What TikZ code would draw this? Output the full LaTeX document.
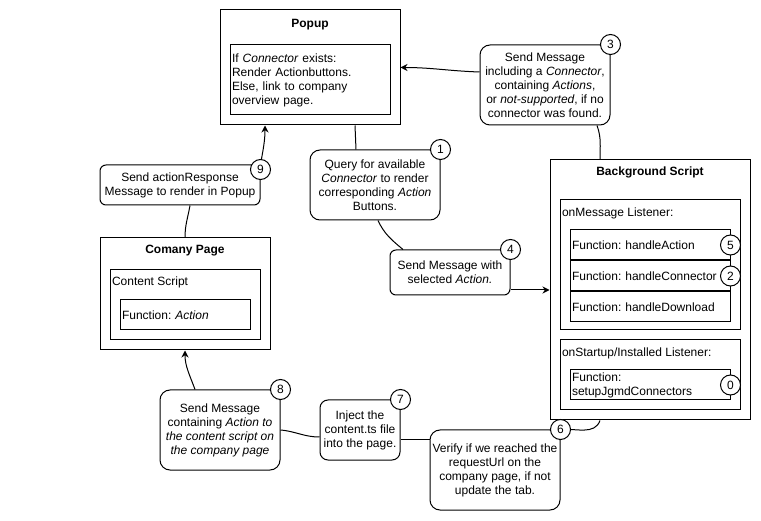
\documentclass[tikz,border=0pt]{standalone}
\usepackage{fontspec}
\setmainfont{Liberation Sans}
\usetikzlibrary{positioning,arrows.meta}

\begin{document}
\begin{tikzpicture}[x=1pt, y=-1pt,
      font=\fontsize{12}{14}\selectfont\frenchspacing,
      line width=1pt,
      box/.style={draw, inner sep=2pt},
      listbox/.style={draw, inner sep=2pt, text width=#1, align=left},
      msg/.style={draw, rounded corners=10pt, align=center, inner sep=1pt},
      num/.style={draw, circle, fill=white, minimum size=20pt, inner sep=0pt},
      title/.style={font=\fontsize{12}{14}\selectfont\bfseries},
      link/.style={-{Stealth[length=7pt,width=7pt]}}]
    \useasboundingbox (0,0) rectangle (761,521);

    \node[box, minimum width=180pt, minimum height=115pt] (popup) at (310,67.5) {};
    \node[title] (popupT) at ([yshift=-15pt]popup.north) {Popup};
    \node[listbox=156pt, minimum height=70pt] (popin) at (310,80)
      {If \textit{Connector} exists:\\Render Actionbuttons.\\Else, link to company\\overview page.};

    \node[msg, minimum width=130pt, minimum height=80pt] (m3) at (545,85)
      {Send Message\\including a \textit{Connector},\\containing \textit{Actions},\\ or \textit{not-supported}, if no\\connector was found.};

    \node[box, minimum width=200pt, minimum height=260pt] (bg) at (650,290) {};
    \node[title] (bgT) at ([yshift=-13pt]bg.north) {Background Script};
    \node[box, minimum width=180pt, minimum height=130pt] (lmsg) at (650,265) {};
    \node[anchor=west, inner sep=2pt] (lmsgT) at ([yshift=-14pt]lmsg.north west) {onMessage Listener:};
    \node[listbox=156pt, minimum height=30pt] (fA) at (650,245) {Function: handleAction};
    \node[listbox=156pt, minimum height=30pt, below=0pt of fA] (fC) {Function: handleConnector};
    \node[listbox=156pt, minimum height=30pt, below=0pt of fC] (fD) {Function: handleDownload};
    \node[box, minimum width=180pt, minimum height=70pt] (lstart) at (650,375) {};
    \node[anchor=west, inner sep=2pt] (lstartT) at ([yshift=-14pt]lstart.north west) {onStartup/Installed Listener:};
    \node[listbox=156pt, minimum height=30pt] (fS) at (650,385) {Function:\\setupJgmdConnectors};

    \node[msg, minimum width=130pt, minimum height=70pt] (m1) at (375,185)
      {Query for available\\\textit{Connector} to render\\corresponding \textit{Action}\\Buttons.};
    \node[msg, rounded corners=6pt, minimum width=120pt, minimum height=45pt] (m4) at (450,272.5)
      {Send Message with\\selected \textit{Action.}};
    \node[msg, rounded corners=6pt, minimum width=160pt, minimum height=40pt] (m9) at (180,185)
      {Send actionResponse\\Message to render in Popup};

    \node[box, minimum width=170pt, minimum height=112pt] (page) at (185,294) {};
    \node[title] (pageT) at ([yshift=-13pt]page.north) {Comany Page};
    \node[box, minimum width=150pt, minimum height=70pt] (cs) at (185,305) {};
    \node[anchor=west, inner sep=2pt] (csT) at ([yshift=-13pt]cs.north west) {Content Script};
    \node[listbox=126pt, minimum height=30pt] (fAct) at (185,315) {Function: \textit{Action}};

    \node[msg, minimum width=120pt, minimum height=80pt] (m8) at (220,430)
      {Send Message\\containing \textit{Action to}\\\textit{the content script on}\\\textit{the company page}};
    \node[msg, rounded corners=8pt, minimum width=80pt, minimum height=60pt] (m7) at (360,430)
      {Inject the\\content.ts file\\into the page.};
    \node[msg, minimum width=130pt, minimum height=80pt] (m6) at (495,470)
      {Verify if we reached the\\requestUrl on the\\company page, if not\\update the tab.};

    \draw ([xshift=45pt]popup.south) -- ([xshift=-19pt]m1.north);
    \draw ([xshift=3pt]m1.south) to[out=-65,in=140] ([xshift=-47pt]m4.north);
    \draw[link] ([yshift=-17.5pt]m4.east) -- (bg.west);
    \draw ([xshift=52pt]m3.south) to[out=-70,in=90] ([xshift=-50pt]bg.north);
    \draw[link] ([yshift=13pt]m3.west) to[out=178,in=0] (popup.east);
    \draw (m6.north east) to[out=5,in=-110] ([xshift=-50pt]bg.south);
    \draw ([yshift=30pt]m6.west) -- ([yshift=-10pt]m7.east);
    \draw ([yshift=-7pt]m7.west) to[out=180,in=-5] (m8.east);
    \draw[link] ([xshift=-25pt]m8.north) to[out=110,in=-90] (page.south);
    \draw ([xshift=10pt]m9.south) to[out=-100,in=90] (page.north);
    \draw[link] (m9.north east) to[out=80,in=-90] ([xshift=-45pt]popup.south);

    \node[num] (n3) at (m3.north east) {3};
    \node[num] (n1) at (m1.north east) {1};
    \node[num] (n4) at (m4.north east) {4};
    \node[num] (n5) at (fA.east) {5};
    \node[num] (n2) at (fC.east) {2};
    \node[num] (n0) at (fS.east) {0};
    \node[num] (n9) at ([yshift=-5pt]m9.north east) {9};
    \node[num] (n8) at (m8.north east) {8};
    \node[num] (n7) at (m7.north east) {7};
    \node[num] (n6) at (m6.north east) {6};
  \end{tikzpicture}
\end{document}
